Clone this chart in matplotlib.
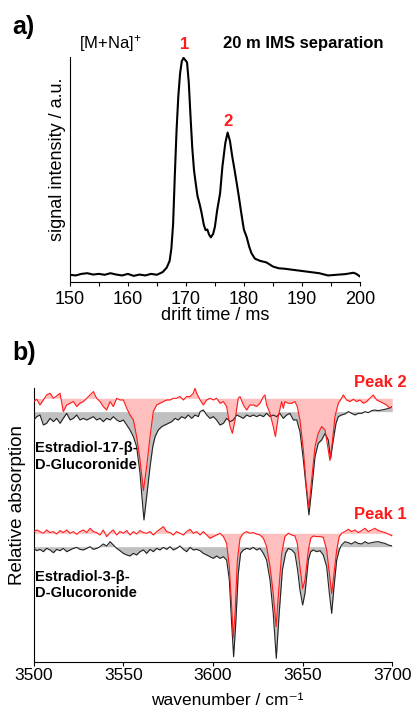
import matplotlib.pyplot as plt
import numpy as np

plt.rcParams['font.family'] = ['Liberation Sans', 'DejaVu Sans']
plt.rcParams['mathtext.default'] = 'regular'

# a) drift time distribution of [M+Na]+ after 20 m IMS
drift_time = [150, 151, 152, 153, 154, 155, 156, 157, 158, 159, 160, 161, 162, 163, 164, 165, 166,
              166.7, 167.2, 167.5, 167.8, 168.1, 168.4, 168.7, 169.0, 169.3, 169.6, 169.9, 170.2,
              170.5, 170.8, 171.1, 171.4, 171.7, 172.0, 172.4, 172.7, 173.1, 173.4, 173.7, 174.0,
              174.3, 174.7, 175.0, 175.4, 175.9, 176.3, 176.8, 177.2, 177.6, 178.0, 178.4, 178.9,
              179.2, 179.6, 180.0, 180.5, 180.9, 181.3, 181.9, 182.8, 183.9, 185.0, 186.0, 187.0,
              188.5, 190.0, 191.5, 193.0, 194.5, 196.0, 197.5, 198.9, 199.4, 200.0]
intensity = [0.033, 0.030, 0.037, 0.040, 0.034, 0.037, 0.033, 0.040, 0.034, 0.030, 0.037, 0.028,
             0.034, 0.030, 0.037, 0.033, 0.045,
             0.065, 0.095, 0.150, 0.260, 0.480, 0.680, 0.830, 0.930, 0.985, 1.000, 0.990, 0.980,
             0.890, 0.740, 0.600, 0.500, 0.440, 0.385, 0.345, 0.310, 0.255, 0.232, 0.235, 0.212,
             0.200, 0.215, 0.246, 0.321, 0.396, 0.515, 0.620, 0.667, 0.630, 0.560, 0.500, 0.420,
             0.370, 0.300, 0.235, 0.200, 0.160, 0.130, 0.105, 0.095, 0.088, 0.070, 0.062, 0.060,
             0.055, 0.050, 0.045, 0.040, 0.030, 0.033, 0.036, 0.042, 0.037, 0.026]

# b) IR spectra, signal relative to each trace's own baseline (a.u.)
wn_peak2 = [3500.0, 3501.7, 3503.5, 3505.4, 3507.2, 3509.1, 3511.0, 3512.8, 3514.7, 3516.5, 3518.4,
            3520.3, 3522.1, 3524.0, 3525.8, 3527.7, 3529.6, 3531.4, 3533.3, 3535.1, 3537.0, 3538.8,
            3540.7, 3542.6, 3544.4, 3546.3, 3548.1, 3550.0, 3551.9, 3553.7, 3555.6, 3557.4, 3559.3,
            3561.2, 3563.0, 3564.9, 3566.7, 3568.6, 3570.4, 3572.3, 3574.2, 3576.0, 3577.9, 3579.7,
            3581.6, 3583.5, 3585.3, 3587.2, 3589.0, 3590.0, 3590.9, 3592.8, 3594.6, 3596.5, 3598.3,
            3600.2, 3602.0, 3603.9, 3605.8, 3607.6, 3609.5, 3610.8, 3612.3, 3614.1, 3615.1, 3616.9,
            3618.8, 3620.6, 3622.5, 3624.3, 3626.2, 3628.1, 3629.0, 3629.9, 3631.8, 3633.6, 3634.8,
            3636.4, 3638.3, 3639.2, 3640.1, 3642.0, 3643.9, 3645.7, 3647.0, 3648.5, 3650.4, 3651.9,
            3653.5, 3655.0, 3656.9, 3658.7, 3660.6, 3662.5, 3664.0, 3665.2, 3666.7, 3668.0, 3669.9,
            3671.7, 3672.7, 3674.5, 3676.4, 3678.3, 3680.1, 3682.0, 3683.8, 3685.7, 3687.5, 3689.4,
            3691.3, 3693.1, 3695.0, 3696.8, 3698.7, 3700.0]
sig_peak2 = [-3.3, -1.0, -6.7, -1.7, 3.3, 5.0, 0, 2.3, 5.0, -13.3, -6.7,
             -5.0, -3.3, -8.3, -5.0, -3.3, 0, 3.3, 6.7, 0, -3.3, -8.3,
             -11.7, -3.3, -8.3, 0, -1.7, -1.7, -10, -16.7, -21.7, -38.3, -61.7,
             -92.3, -68.3, -38.3, -13.3, -6.7, -5, -3.3, -1.7, -1.7, 0, 0,
             1.7, -1.7, 1.7, 1.7, 5, 10, 5, -1.7, -6.7, -1.7, 0,
             -1.7, 0, -5, -3.3, -8.3, -28.3, -35, -21.7, 0, 1.7, -6.7,
             -11.7, -6.7, -6.7, -8.3, -5, 1.7, 3.3, -6.7, -15, -28.3, -38.3,
             -18.3, -3.3, -10, -3.3, -5, -5, -3.3, -8.3, -21.7, -51.7, -85,
             -109.7, -81.7, -48.3, -35, -28.3, -31.7, -48.3, -62.3, -41.7, -18.3, -5,
             0, 3.3, -1.7, -3.3, -1, -3.3, -1.7, -5, -3.3, 0, 3.3,
             -1.7, -3.3, -5, -6.7, -10, -8.3]

wn_e17 = [3500.0, 3501.7, 3503.5, 3505.4, 3507.2, 3509.1, 3511.0, 3512.8, 3514.7, 3516.5, 3518.4,
          3520.3, 3522.1, 3524.0, 3525.8, 3527.7, 3529.6, 3531.4, 3533.3, 3535.1, 3537.0, 3538.8,
          3540.7, 3542.6, 3544.4, 3546.3, 3548.1, 3550.0, 3551.9, 3553.7, 3555.6, 3557.4, 3559.3,
          3560.2, 3561.5, 3563.0, 3564.9, 3566.4, 3567.7, 3569.5, 3571.4, 3573.2, 3575.1, 3577.0,
          3578.8, 3580.7, 3582.5, 3584.4, 3586.2, 3588.1, 3590.0, 3591.8, 3592.8, 3594.6, 3596.5,
          3598.3, 3600.2, 3602.0, 3603.9, 3605.8, 3607.6, 3609.5, 3611.3, 3613.2, 3615.1, 3616.9,
          3618.8, 3620.6, 3622.5, 3624.3, 3626.2, 3628.1, 3629.9, 3631.8, 3633.6, 3635.5, 3637.3,
          3639.2, 3641.1, 3642.9, 3644.8, 3646.7, 3648.5, 3650.4, 3651.9, 3653.5, 3655.0, 3656.9,
          3658.7, 3660.6, 3662.5, 3664.3, 3665.6, 3667.1, 3668.6, 3669.9, 3671.7, 3673.6, 3675.5,
          3677.3, 3679.2, 3681.0, 3682.9, 3684.8, 3686.6, 3688.5, 3690.3, 3692.2, 3694.1, 3695.9,
          3697.8, 3700.0]
sig_e17 = [-8.3, -5, -3.3, -13.3, -11.7, -6.7, -10, -6.7, -11.7, -6.7, -1.7,
           -8.3, -6.7, -3.3, -8.3, -6.7, -8.3, -6.7, -5, -8.3, -6.7, -10,
           -6.7, -8.3, -5, -8.3, -10, -8.3, -13.3, -18.3, -25, -35, -61.7,
           -81.7, -108.3, -85, -55, -35, -25, -18.3, -15, -13.3, -11.7, -10,
           -6.7, -8.3, -5, -6.7, -3.3, -6.7, -3.3, -5, 0, 1.7, -3.3,
           -6.7, -5, -8.3, -13.3, -11.7, -6.7, -10, -8.3, -3.3, -5, -6.7,
           -3.3, -5, -3.3, -5, -3.3, -5, -1.7, -5, -3.3, -5, -1.7,
           -6.7, -3.3, -1.7, -8.3, -8.3, -20, -48.3, -75, -103.3, -78.3, -45,
           -31.7, -28.3, -21.7, -28.3, -46.7, -28.3, -11.7, -5, -3.3, -2.3, 0,
           -1.7, -3.3, -1.7, -1.7, 0, -1, 1, 1.7, 1, 1.7, 2.3,
           3.3, 5]

wn_peak1 = [3500.0, 3501.7, 3503.5, 3505.4, 3507.2, 3509.1, 3511.0, 3512.8, 3514.7, 3516.5, 3518.4,
            3520.3, 3522.1, 3524.0, 3525.8, 3527.7, 3529.6, 3531.4, 3533.3, 3535.1, 3537.0, 3538.8,
            3540.7, 3542.6, 3544.4, 3546.3, 3548.1, 3550.0, 3551.9, 3553.7, 3555.6, 3557.4, 3559.3,
            3561.2, 3563.0, 3564.9, 3566.7, 3568.6, 3570.4, 3572.3, 3574.2, 3576.0, 3577.9, 3579.7,
            3581.6, 3583.5, 3585.3, 3587.2, 3589.0, 3590.9, 3592.8, 3594.6, 3596.5, 3598.3, 3600.2,
            3602.0, 3603.9, 3605.8, 3607.6, 3609.1, 3610.4, 3611.3, 3612.3, 3613.6, 3615.1, 3616.9,
            3618.8, 3620.6, 3622.5, 3624.3, 3626.2, 3628.1, 3629.9, 3631.8, 3633.6, 3635.2, 3636.4,
            3638.3, 3640.1, 3642.0, 3643.9, 3645.7, 3647.0, 3648.5, 3650.0, 3651.3, 3653.2, 3654.5,
            3655.9, 3657.8, 3659.7, 3661.5, 3663.4, 3664.9, 3666.2, 3667.5, 3669.0, 3670.4, 3671.7,
            3673.6, 3675.5, 3677.3, 3679.2, 3681.0, 3682.9, 3684.8, 3686.6, 3688.5, 3690.3, 3692.2,
            3694.1, 3695.9, 3697.8, 3700.0]
sig_peak1 = [1.7, 3.3, 1.7, 0, 3.3, 0.7, 1.7, -0.7, 2.7, 0.7, 3.3,
             0, 1.7, -1, 1.7, 3.3, 0.7, 5, 1.7, 0.7, -1.7, 3.3,
             -3.3, 0.7, 3.3, -1.7, 1.7, 0, 2.7, -1.7, 1.7, -0.7, 2.7,
             0.7, 0, 1.7, -1.7, 1.7, 4, 6.7, 1.7, 0.7, -1.7, 1.7,
             0, -1.7, 1.7, 4, 0, 1.7, -1.7, 1.7, -1.7, -5, -3.3,
             -1.7, 0, -3.3, -10, -33.3, -73.3, -104.3, -80, -26.7, -5, 0,
             1.7, 0, 0.7, -0.7, -1.7, -5, -13.3, -33.3, -60, -93.3, -63.3,
             -20, -3.3, 0, -1.7, -2.7, -10, -33.3, -55.3, -46.7, -16.7, -5,
             -2.7, -3.3, -3.3, -4, -16.7, -40, -60.3, -40, -16.7, -3.3, 0,
             1.7, 4, 1.7, 3.3, 0.7, 2.7, 5, 1.7, 3.3, 5, 2.7,
             1.7, 0.7, -0.7, -2.7]

wn_e3 = [3500.0, 3501.7, 3503.5, 3505.4, 3507.2, 3509.1, 3511.0, 3512.8, 3514.7, 3516.5, 3518.4,
         3520.3, 3522.1, 3524.0, 3525.8, 3527.7, 3529.6, 3531.4, 3533.3, 3535.1, 3537.0, 3538.8,
         3540.7, 3542.6, 3544.4, 3546.3, 3548.1, 3550.0, 3551.9, 3553.7, 3555.6, 3557.4, 3559.3,
         3561.2, 3563.0, 3564.9, 3566.7, 3568.6, 3570.4, 3572.3, 3574.2, 3576.0, 3577.9, 3579.7,
         3581.6, 3583.5, 3585.3, 3587.2, 3589.0, 3590.9, 3592.8, 3594.6, 3596.5, 3598.3, 3600.2,
         3602.0, 3603.9, 3605.8, 3607.6, 3609.1, 3610.4, 3611.5, 3612.6, 3614.1, 3615.4, 3616.9,
         3618.8, 3620.6, 3622.5, 3624.3, 3626.2, 3628.1, 3629.9, 3631.8, 3633.6, 3635.3, 3636.8,
         3638.7, 3640.5, 3642.0, 3643.9, 3645.7, 3647.2, 3648.5, 3650.0, 3651.3, 3653.2, 3654.5,
         3655.9, 3657.8, 3659.7, 3661.5, 3663.4, 3664.9, 3666.2, 3667.5, 3669.0, 3670.4, 3671.7,
         3673.6, 3675.5, 3677.3, 3679.2, 3681.0, 3682.9, 3684.8, 3686.6, 3688.5, 3690.3, 3692.2,
         3694.1, 3695.9, 3697.8, 3700.0]
sig_e3 = [-1.7, -4, -2.7, -5, -1.7, -3.3, -6, -2.7, -4, -1.7, -5,
          -3.3, -1.7, -0.7, -2.7, -3.3, -1.7, 0, -2.7, -1.7, 0, 2.7,
          0.7, 5, 1.7, -1.7, -4, -6.7, -8.3, -9.3, -6.7, -8.3, -5,
          -3.3, -6.7, -2.7, -5, -1.7, -3.3, -0.7, -2.7, 0, -3.3, -1.7,
          0.7, -2.7, -5, -0.7, -3.3, -2.7, -4, -6.7, -8.3, -10, -11.7,
          -9.3, -11.7, -10, -13.3, -33.3, -76.7, -110, -80, -26.7, -6.7, -3.3,
          -1.7, -2.7, -0.7, -3.3, -1.7, -6.7, -13.3, -33.3, -66.7, -111.7, -70,
          -23.3, -6.7, -1.7, -3.3, -6.7, -23.3, -43.3, -58.3, -46.7, -13.3, -5,
          -3.3, -5, -4, -8.3, -20, -46.7, -66.7, -40, -13.3, -3.3, 1.7,
          5, 4, 2.7, 5, 3.3, 2.7, 5, 3.3, 4, 4.7, 5,
          4, 3.3, 1.7, 0.7]

# vertical offsets of the four traces in panel b
base_peak2 = 263.7
base_e17 = 250.3
base_peak1 = 128.7
base_e3 = 115.3

red = '#ff1a1a'
pink = '#ffbfbf'
grey = '#c0c0c0'

fig = plt.figure(figsize=(4.16, 7.09), dpi=100)

# ---- panel a ----
ax1 = fig.add_axes([0.168, 0.602, 0.697, 0.318])
ax1.plot(drift_time, intensity, color='black', lw=1.5)
ax1.set_xlim(150, 200)
ax1.set_ylim(0, 1.005)
ax1.set_xticks(np.arange(150, 201, 10))
ax1.set_xticks(np.arange(155, 200, 10), minor=True)
ax1.set_yticks([])
ax1.spines['top'].set_visible(False)
ax1.spines['right'].set_visible(False)
for s in ['left', 'bottom']:
    ax1.spines[s].set_linewidth(0.8)
ax1.tick_params(axis='x', which='major', length=3.2, width=0.8, pad=3, labelsize=13)
ax1.tick_params(axis='x', which='minor', length=2.6, width=0.8)
ax1.set_xlabel('drift time / ms', fontsize=13)
ax1.xaxis.label.set_va('center')
ax1.xaxis.set_label_coords(0.5, -0.147)
ax1.set_ylabel('signal intensity / a.u.', fontsize=13)
ax1.yaxis.label.set_va('center')
ax1.yaxis.set_label_coords(-0.041, 0.547)

fig.text(0.029, 0.962, 'a)', fontsize=18, fontweight='bold', va='center', ha='left')
fig.text(0.190, 0.938, '[M+Na]$^{+}$', fontsize=12, va='center', ha='left')
fig.text(0.536, 0.938, '20 m IMS separation', fontsize=12, fontweight='bold',
         va='center', ha='left')
fig.text(0.445, 0.937, '1', fontsize=12, fontweight='bold', color=red, va='center', ha='center')
fig.text(0.548, 0.829, '2', fontsize=12, fontweight='bold', color=red, va='center', ha='center')

# ---- panel b ----
ax2 = fig.add_axes([0.081, 0.0663, 0.862, 0.3865])


def draw_trace(ax, wn, sig, base, line_col, fill_col, z):
    y = base + np.array(sig)
    ax.fill_between(wn, y, base, color=fill_col, lw=0, zorder=z)
    ax.plot(wn, y, color=line_col, lw=0.8, zorder=z + 2)


draw_trace(ax2, wn_e17, sig_e17, base_e17, '#222222', grey, 1)
draw_trace(ax2, wn_e3, sig_e3, base_e3, '#222222', grey, 1)
draw_trace(ax2, wn_peak2, sig_peak2, base_peak2, red, pink, 2)
draw_trace(ax2, wn_peak1, sig_peak1, base_peak1, red, pink, 2)

ax2.set_xlim(3500, 3700)
ax2.set_ylim(0, 274)
ax2.set_xticks(np.arange(3500, 3701, 50))
ax2.set_yticks([])
ax2.spines['top'].set_visible(False)
ax2.spines['right'].set_visible(False)
for s in ['left', 'bottom']:
    ax2.spines[s].set_linewidth(0.8)
ax2.tick_params(axis='x', length=3, width=0.8, pad=1.5, labelsize=12.5)
ax2.set_xlabel('wavenumber / cm⁻¹', fontsize=12.5)
ax2.xaxis.label.set_va('bottom')
ax2.xaxis.set_label_coords(0.539, -0.168)
ax2.set_ylabel('Relative absorption', fontsize=13.5)
ax2.yaxis.label.set_va('center')
ax2.yaxis.set_label_coords(-0.044, 0.573)

fig.text(0.029, 0.502, 'b)', fontsize=18, fontweight='bold', va='center', ha='left')
fig.text(0.978, 0.460, 'Peak 2', fontsize=12, fontweight='bold', color=red, va='center', ha='right')
fig.text(0.978, 0.275, 'Peak 1', fontsize=12, fontweight='bold', color=red, va='center', ha='right')
fig.text(0.084, 0.356, 'Estradiol-17-β-\nD-Glucoronide', fontsize=10.5, fontweight='bold',
         va='center', ha='left', linespacing=1.2)
fig.text(0.084, 0.175, 'Estradiol-3-β-\nD-Glucoronide', fontsize=10.5, fontweight='bold',
         va='center', ha='left', linespacing=1.2)

fig.savefig('out.png', dpi=100)
